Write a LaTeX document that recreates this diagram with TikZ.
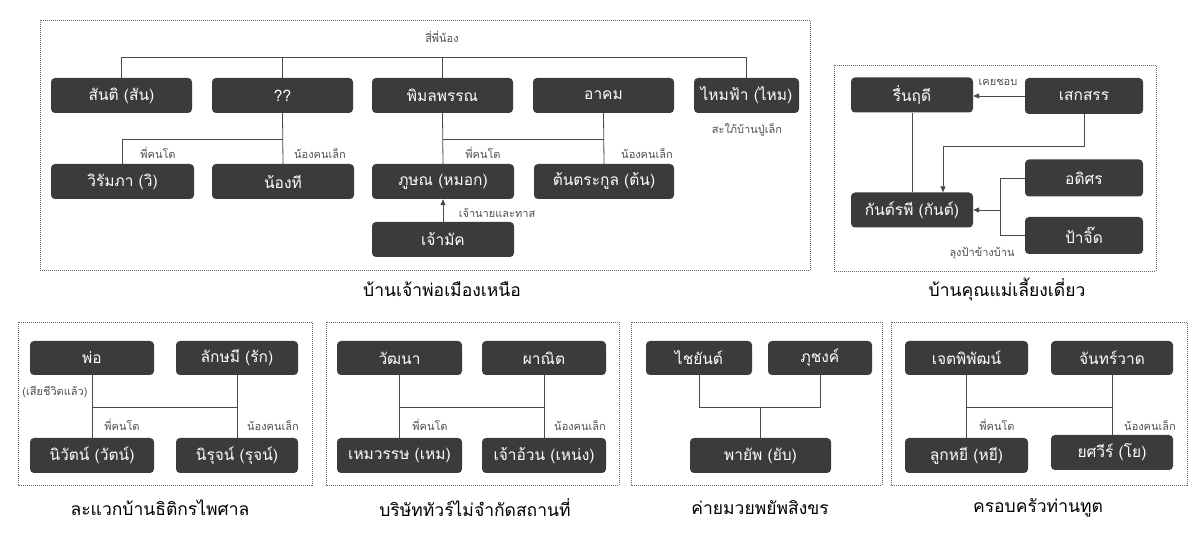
\documentclass[tikz,border=0pt]{standalone}
\usepackage{fontspec}
\setmainfont[Script=Thai]{Loma}
\usetikzlibrary{arrows.meta}
\definecolor{nodegray}{HTML}{3B3B3B}
\definecolor{linegray}{HTML}{4A4A4A}
\definecolor{labelgray}{HTML}{505050}
\definecolor{framegray}{HTML}{666666}
\begin{document}
\begin{tikzpicture}[x=1pt,y=-1pt,
 person/.style={fill=nodegray, rounded corners=4pt, text=white, font=\fontsize{15.5}{17}\selectfont, inner sep=0pt, minimum height=35pt},
 conn/.style={draw=linegray, line width=0.8pt},
 arr/.style={conn, -{Triangle[length=6pt,width=5pt]}},
 lbl/.style={text=labelgray, font=\fontsize{11}{12}\selectfont, inner sep=0pt},
 ttl/.style={text=black, font=\fontsize{17.5}{19}\selectfont, inner sep=0pt},
 frame/.style={draw=framegray, line width=0.7pt, dash pattern=on 1pt off 1pt}]
\fill[white] (0,0) rectangle (1200,534);
\useasboundingbox (0,0) rectangle (1200,534);

% ---------------- top-left: บ้านเจ้าพ่อเมืองเหนือ
\draw[frame] (40,20) rectangle (810,270);
\node[person, minimum width=141pt] (santi) at (121.5,95.5) {สันติ (สัน)};
\node[person, minimum width=141pt] (qq) at (282.5,95.5) {??};
\node[person, minimum width=141pt] (pim) at (442.5,95.5) {พิมลพรรณ};
\node[person, minimum width=141pt] (akhom) at (603.5,95.5) {อาคม};
\node[person, minimum width=105pt] (mai) at (746.5,95.5) {ไหมฟ้า (ไหม)};
\node[person, minimum width=143pt] (wiram) at (122.5,181.5) {วิรัมภา (วิ)};
\node[person, minimum width=142pt] (nongti) at (283,181.5) {น้องที};
\node[person, minimum width=142pt] (phut) at (443,181.5) {ภูษณ (หมอก)};
\node[person, minimum width=140pt] (ton) at (604,181.5) {ต้นตระกูล (ต้น)};
\node[person, minimum width=142pt] (maak) at (443,239.5) {เจ้ามัค};

\coordinate (topbar) at (0,57);
\coordinate (kidbar) at (0,139);
\draw[conn] (santi.north) -- (santi.north |- topbar) -- (mai.north |- topbar) -- (mai.north);
\draw[conn] (qq.north) -- (qq.north |- topbar);
\draw[conn] (pim.north) -- (pim.north |- topbar);
\draw[conn] (qq.south) -- (nongti.north);
\draw[conn] (wiram.north) -- (wiram.north |- kidbar) -- (qq.south |- kidbar);
\draw[conn] (pim.south) -- (phut.north);
\draw[conn] (akhom.south) -- (ton.north);
\draw[conn] (pim.south |- kidbar) -- (akhom.south |- kidbar);
\draw[arr] (maak.north) -- (phut.south);

\node[lbl] (l1) at (442,37) {สี่พี่น้อง};
\node[lbl] (l2) at (158,153) {พี่คนโต};
\node[lbl] (l3) at (320,153) {น้องคนเล็ก};
\node[lbl] (l4) at (483,153) {พี่คนโต};
\node[lbl] (l5) at (647,153) {น้องคนเล็ก};
\node[lbl] (l6) at (747,130) {สะใภ้บ้านปู่เล็ก};
\node[lbl] (l7) at (497,213) {เจ้านายและทาส};
\node[ttl] (t1) at (442,289) {บ้านเจ้าพ่อเมืองเหนือ};

% ---------------- top-right: บ้านคุณแม่เลี้ยงเดี่ยว
\draw[frame] (834,65) rectangle (1156,271);
\node[person, minimum width=122pt] (ruen) at (912,95) {รื่นฤดี};
\node[person, minimum width=118pt, minimum height=36pt] (sek) at (1084,96) {เสกสรร};
\node[person, minimum width=118pt, minimum height=37pt] (adi) at (1084,178) {อดิศร};
\node[person, minimum width=118pt, minimum height=37pt] (pa) at (1084,235.5) {ป้าจิ๊ด};
\node[person, minimum width=122pt] (kan) at (912,210) {กันต์รพี (กันต์)};

\coordinate (j1) at (943,146);
\coordinate (jx) at (1000,0);
\draw[arr] (sek.west) -- (sek.west -| ruen.east);
\draw[conn] (ruen.south) -- (kan.north);
\draw[arr] (sek.south) |- (j1) -- (j1 |- kan.north);
\draw[conn] (adi.west) -- (adi.west -| jx) -- (pa.west -| jx) -- (pa.west);
\draw[arr] (kan.east -| jx) -- (kan.east);
\node[lbl] (l8) at (998,82) {เคยชอบ};
\node[lbl] (l9) at (982,253) {ลุงป้าข้างบ้าน};
\node[ttl] (t2) at (1007,290) {บ้านคุณแม่เลี้ยงเดี่ยว};

% ---------------- bottom A: ละแวกบ้านธิติกรไพศาล
\coordinate (bbar) at (0,407);
\draw[frame] (18,322) rectangle (312,485);
\node[person, minimum width=124pt, minimum height=34pt] (pho) at (92,358) {พ่อ};
\node[person, minimum width=122pt, minimum height=34pt] (lak) at (237,358) {ลักษมี (รัก)};
\node[person, minimum width=124pt] (niwat) at (92,455.5) {นิวัตน์ (วัตน์)};
\node[person, minimum width=122pt] (niruj) at (237,455.5) {นิรุจน์ (รุจน์)};
\draw[conn] (pho.south) -- (niwat.north);
\draw[conn] (lak.south) -- (niruj.north);
\draw[conn] (pho.south |- bbar) -- (lak.south |- bbar);
\node[lbl] (l10) at (55,392) {(เสียชีวิตแล้ว)};
\node[lbl] (l11) at (122,425) {พี่คนโต};
\node[lbl] (l12) at (273,425) {น้องคนเล็ก};
\node[ttl] (t3) at (160,508) {ละแวกบ้านธิติกรไพศาล};

% ---------------- bottom B: บริษัททัวร์ไม่จำกัดสถานที่
\draw[frame] (326,322) rectangle (619,485);
\node[person, minimum width=125pt, minimum height=34pt] (wat) at (399.5,358) {วัฒนา};
\node[person, minimum width=124pt, minimum height=34pt] (phanit) at (544,358) {ผาณิต};
\node[person, minimum width=125pt] (hem) at (399.5,455.5) {เหมวรรษ (เหม)};
\node[person, minimum width=124pt] (aun) at (544,455.5) {เจ้าอ้วน (เหน่ง)};
\draw[conn] (wat.south) -- (hem.north);
\draw[conn] (phanit.south) -- (aun.north);
\draw[conn] (wat.south |- bbar) -- (phanit.south |- bbar);
\node[lbl] (l13) at (430,425) {พี่คนโต};
\node[lbl] (l14) at (580,425) {น้องคนเล็ก};
\node[ttl] (t4) at (475,508) {บริษัททัวร์ไม่จำกัดสถานที่};

% ---------------- bottom C: ค่ายมวยพยัพสิงขร
\draw[frame] (631,322) rectangle (882,485);
\node[person, minimum width=106pt, minimum height=34pt] (chai) at (699,358) {ไชยันต์};
\node[person, minimum width=104pt, minimum height=34pt] (phu) at (820,358) {ภุชงค์};
\node[person, minimum width=141pt] (phayap) at (760.5,455.5) {พายัพ (ยับ)};
\draw[conn] (chai.south) -- (chai.south |- bbar) -- (phu.south |- bbar) -- (phu.south);
\draw[conn] (phayap.north |- bbar) -- (phayap.north);
\node[ttl] (t5) at (760,508) {ค่ายมวยพยัพสิงขร};

% ---------------- bottom D: ครอบครัวท่านทูต
\draw[frame] (891,322) rectangle (1187,485);
\node[person, minimum width=123pt, minimum height=34pt] (jet) at (966.5,358) {เจตพิพัฒน์};
\node[person, minimum width=122pt, minimum height=34pt] (jan) at (1112,358) {จันทร์วาด};
\node[person, minimum width=123pt] (yi) at (966.5,455.5) {ลูกหยี (หยี)};
\node[person, minimum width=122pt] (yot) at (1112,452.5) {ยศวีร์ (โย)};
\draw[conn] (jet.south) -- (yi.north);
\draw[conn] (jan.south) -- (yot.north);
\draw[conn] (jet.south |- bbar) -- (jan.south |- bbar);
\node[lbl] (l15) at (997,425) {พี่คนโต};
\node[lbl] (l16) at (1150,425) {น้องคนเล็ก};
\node[ttl] (t6) at (1038,508) {ครอบครัวท่านทูต};
\end{tikzpicture}
\end{document}
